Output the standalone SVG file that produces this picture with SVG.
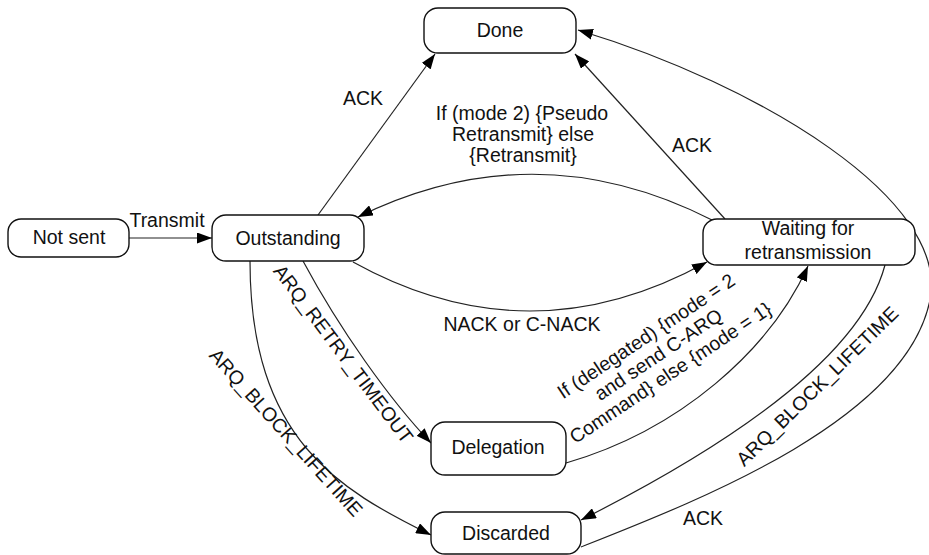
<svg xmlns="http://www.w3.org/2000/svg" width="929" height="555" viewBox="0 0 929 555">
<style>
.box{fill:#fff;stroke:#111;stroke-width:1.4}
.t{font-family:"Liberation Sans",Arial,sans-serif;font-size:19.5px;fill:#111;text-anchor:middle}
.e{fill:none;stroke:#222;stroke-width:1.2}
</style>
<defs>
<marker id="ah" markerUnits="userSpaceOnUse" markerWidth="15" markerHeight="11" refX="15" refY="5.5" orient="auto">
<path d="M0,0 L15,5.5 L0,11 z" fill="#000"/>
</marker>
</defs>
<rect width="929" height="555" fill="#fff"/>
<g id="edges">
<path class="e" d="M129,238 L212,238" marker-end="url(#ah)"/>
<path class="e" d="M318,215 L435,54" marker-end="url(#ah)"/>
<path class="e" d="M725,219 L575,54" marker-end="url(#ah)"/>
<path class="e" d="M712,220 Q535,130 358,217" marker-end="url(#ah)"/>
<path class="e" d="M353,262 Q530,360 707,262" marker-end="url(#ah)"/>
<path class="e" d="M303,261 C340,330 390,400 431,443" marker-end="url(#ah)"/>
<path class="e" d="M250,261 C250,440 340,490 431,535" marker-end="url(#ah)"/>
<path class="e" d="M566,463 C680,430 770,350 808,266" marker-end="url(#ah)"/>
<path class="e" d="M885,265 C860,360 720,450 581,520" marker-end="url(#ah)"/>
<path class="e" d="M581,547 C700,500 906,420 930,300 C950,200 760,85 578,30" marker-end="url(#ah)"/>
</g>
<g id="labels">
<text class="t" x="167" y="227">Transmit</text>
<text class="t" x="363" y="105">ACK</text>
<text class="t" x="692" y="152">ACK</text>
<text class="t" x="522" y="120">If (mode 2) {Pseudo</text>
<text class="t" x="523" y="141">Retransmit} else</text>
<text class="t" x="523" y="162">{Retransmit}</text>
<text class="t" x="522" y="331">NACK or C-NACK</text>
<text class="t" x="703" y="525">ACK</text>
<text class="t" transform="translate(338,358) rotate(53)">ARQ_RETRY_TIMEOUT</text>
<text class="t" transform="translate(281,437) rotate(48)">ARQ_BLOCK_LIFETIME</text>
<text class="t" transform="translate(822,391) rotate(-44.5)">ARQ_BLOCK_LIFETIME</text>
<text class="t" transform="translate(662,360) rotate(-33.7)"><tspan x="0" y="-22">If (delegated) {mode = 2</tspan><tspan x="0" y="0">and send C-ARQ</tspan><tspan x="0" y="22">Command} else {mode = 1}</tspan></text>
</g>
<g id="not-sent"><rect class="box" x="8" y="219" width="121" height="38" rx="13"/><text class="t" x="69" y="244">Not sent</text></g>
<g id="outstanding"><rect class="box" x="212" y="215" width="152" height="46" rx="14"/><text class="t" x="288" y="245">Outstanding</text></g>
<g id="done"><rect class="box" x="424" y="8" width="152" height="45" rx="14"/><text class="t" x="500" y="37">Done</text></g>
<g id="waiting"><rect class="box" x="703" y="219" width="212" height="46" rx="14"/><text class="t" x="808" y="235">Waiting for</text><text class="t" x="808" y="259">retransmission</text></g>
<g id="delegation"><rect class="box" x="431" y="422" width="135" height="53" rx="14"/><text class="t" x="498" y="454">Delegation</text></g>
<g id="discarded"><rect class="box" x="431" y="512" width="150" height="42" rx="14"/><text class="t" x="506" y="540">Discarded</text></g>
</svg>
